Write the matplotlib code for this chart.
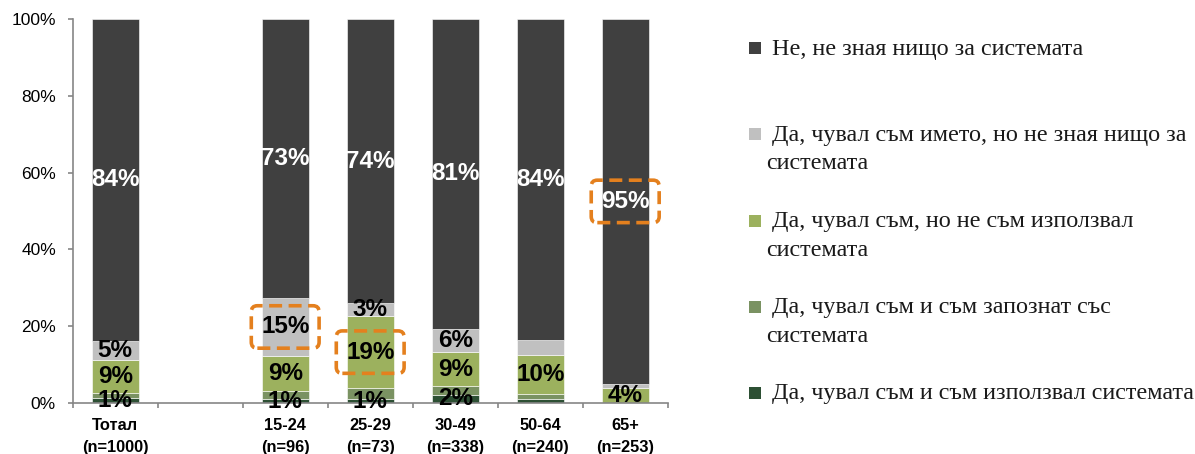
import numpy as np
import matplotlib
matplotlib.use("Agg")
import matplotlib.pyplot as plt
from matplotlib.patches import Rectangle
from matplotlib.ticker import FixedLocator, PercentFormatter

# ---------------- data ----------------
categories = ['Тотал\n(n=1000)', '', '15-24\n(n=96)', '25-29\n(n=73)',
              '30-49\n(n=338)', '50-64\n(n=240)', '65+\n(n=253)']
nan = np.nan
used       = [1.2, nan, 1.0, 1.0, 2.1, 1.1, 0.0]     # Да, чувал съм и съм използвал системата
familiar   = [1.4, nan, 2.2, 2.8, 2.2, 1.3, 0.0]     # Да, чувал съм и съм запознат със системата
heard_only = [8.6, nan, 9.1, 18.9, 8.9, 10.0, 4.0]   # Да, чувал съм, но не съм използвал системата
name_only  = [5.0, nan, 15.0, 3.3, 6.1, 4.0, 1.0]    # Да, чувал съм името, но не зная нищо за системата
no         = [83.8, nan, 72.7, 74.0, 80.7, 83.6, 95.0]  # Не, не зная нищо за системата

lbl_used       = ['1%', '', '1%', '1%', '2%', '', '']
lbl_familiar   = ['', '', '', '', '', '', '']
lbl_heard_only = ['9%', '', '9%', '19%', '9%', '10%', '4%']
lbl_name_only  = ['5%', '', '15%', '3%', '6%', '', '']
lbl_no         = ['84%', '', '73%', '74%', '81%', '84%', '95%']

# which labels get the orange dashed highlight: (series index, category index)
highlights = [(3, 2), (2, 3), (4, 6)]

legend_labels = [
    ' Не, не зная нищо за системата',
    ' Да, чувал съм името, но не зная нищо за\nсистемата',
    ' Да, чувал съм, но не съм използвал\nсистемата',
    ' Да, чувал съм и съм запознат със\nсистемата',
    ' Да, чувал съм и съм използвал системата',
]

# ---------------- style ----------------
series = [used, familiar, heard_only, name_only, no]
series_labels = [lbl_used, lbl_familiar, lbl_heard_only, lbl_name_only, lbl_no]
colors = ['#2D5034', '#7A9262', '#9CB15E', '#C0C0C0', '#404040']
label_colors = ['black', 'black', 'black', 'black', 'white']

W, H = 1195, 454
fig = plt.figure(figsize=(W / 100, H / 100), dpi=100)
ax = fig.add_axes([72.7 / W, 1 - 403 / H, 595 / W, 384 / H])

x = np.arange(len(categories))
bottom = np.zeros(len(categories))
bw = 0.55
for si, (vals, col) in enumerate(zip(series, colors)):
    v = np.array(vals, dtype=float)
    mask = ~np.isnan(v)
    ax.bar(x[mask], v[mask], bw, bottom=bottom[mask], color=col,
           edgecolor='white', linewidth=0.4)
    for i in np.where(mask)[0]:
        txt = series_labels[si][i]
        if txt:
            yc = bottom[i] + v[i] / 2
            kw = {}
            if (si, i) in highlights:
                kw['bbox'] = dict(boxstyle='round,pad=0.4,rounding_size=0.25',
                                  fc='none', ec='#E4801E', lw=2.6,
                                  ls=(0, (3.6, 1.8)))
            ax.text(x[i], yc, txt, ha='center', va='center',
                    fontsize=17.5, fontweight='bold', color=label_colors[si],
                    family='Liberation Sans', **kw)
    bottom[mask] = bottom[mask] + v[mask]

ax.set_xlim(-0.5, len(categories) - 0.5)
ax.set_ylim(0, 100)

ax.yaxis.set_major_locator(FixedLocator([0, 20, 40, 60, 80, 100]))
ax.yaxis.set_major_formatter(PercentFormatter(decimals=0))
ax.set_xticks(x)
ax.set_xticklabels(categories)
ax.xaxis.set_minor_locator(FixedLocator(np.arange(len(categories) + 1) - 0.5))

for s in ['top', 'right']:
    ax.spines[s].set_visible(False)
for s in ['left', 'bottom']:
    ax.spines[s].set_color('#868686')
    ax.spines[s].set_linewidth(1.2)

ax.tick_params(axis='y', direction='out', length=3.6, width=1.2, color='#868686',
               pad=8.5, labelsize=12.5)
ax.tick_params(axis='x', which='major', length=0, pad=10.5, labelsize=11.8)
ax.tick_params(axis='x', which='minor', direction='out', length=3.6, width=1.2,
               color='#868686')
for t in ax.get_yticklabels():
    t.set_family('Liberation Sans')
for t in ax.get_xticklabels():
    t.set_family('Liberation Sans')
    t.set_fontweight('bold')
    t.set_linespacing(1.65)

# ---------------- legend (manual) ----------------
leg_y = [48, 134, 221, 307, 393]
for lab, col, yp in zip(legend_labels, colors[::-1], leg_y):
    fig.patches.append(Rectangle((749 / W, 1 - (yp + 6) / H), 12 / W, 12 / H,
                                 transform=fig.transFigure, facecolor=col,
                                 edgecolor='none'))
    lines = lab.split('\n')
    for k, ln in enumerate(lines):
        fig.text(766 / W, 1 - (yp + 1 + 29 * k) / H, ln, ha='left', va='center',
                 fontsize=17.4, family='Liberation Serif', color='#1a1a1a')

fig.savefig('out.png', dpi=100)
